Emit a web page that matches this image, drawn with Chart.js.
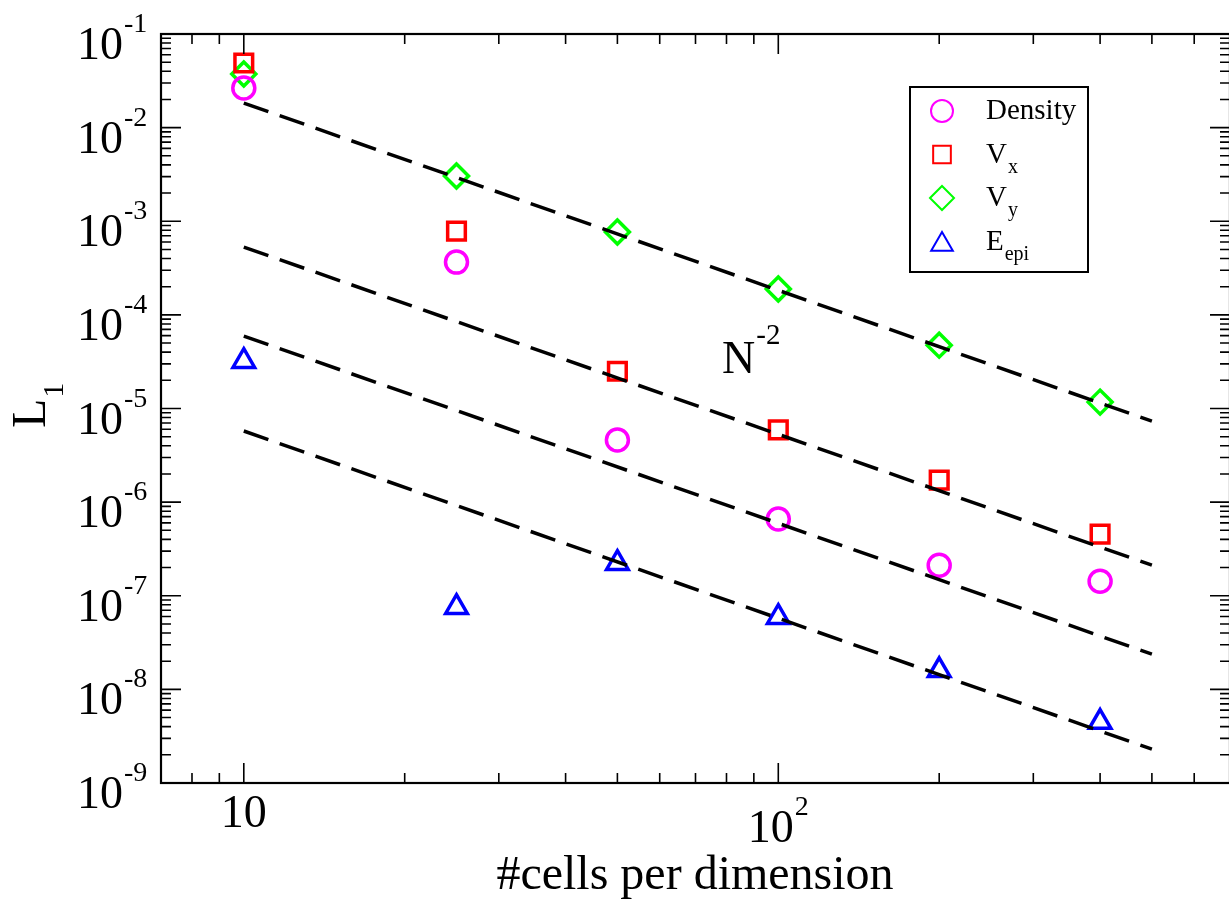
<!DOCTYPE html>
<html>
<head>
<meta charset="utf-8">
<title>L1 error vs resolution</title>
<script src="https://cdn.jsdelivr.net/npm/chart.js@4/dist/chart.umd.min.js"></script>
<style>
  html, body { margin: 0; padding: 0; background: #fff; overflow: hidden; }
  canvas { display: block; }
</style>
</head>
<body>
<!-- wider than the window: the right frame edge sits just past the visible area -->
<canvas id="conv" width="1246" height="903"></canvas>
<script>
// resolution (cells per dimension) and L1 errors per variable
const cells = [10, 25, 50, 100, 200, 400];
const density = [2.65e-2, 3.66e-4, 4.6e-6, 6.6e-7, 2.12e-7, 1.43e-7];
const vx = [4.9e-2, 7.85e-4, 2.5e-5, 5.9e-6, 1.72e-6, 4.55e-7];
const vy = [3.74e-2, 3.04e-3, 7.67e-4, 1.89e-4, 4.75e-5, 1.17e-5];
const eEpi = [3.2e-5, 7.55e-8, 2.23e-7, 5.9e-8, 1.6e-8, 4.47e-9];

// second order guide lines, values at N = 10 and N = 500
const guideN = [10, 500];
const guide1 = [1.83e-2, 7.32e-6];
const guide2 = [5.3e-4, 2.12e-7];
const guide3 = [5.94e-5, 2.38e-8];
const guide4 = [5.75e-6, 2.3e-9];

// tick labels
const xMajor = [10, 100];
const xMajorExp = ['', '2'];
const yExp = [-1, -2, -3, -4, -5, -6, -7, -8, -9];

// legend entries
const legendNames = ['Density', 'V', 'V', 'E'];
const legendSubs = ['', 'x', 'y', 'epi'];
const legendColors = ['#ff00ff', '#ff0000', '#00ff00', '#0000ff'];
const legendStyles = ['circle', 'rect', 'rectRot', 'triangle'];
const markerRadius = { circle: 11, rect: 12.5, rectRot: 12, triangle: 12.5 };

const SERIF = '"Liberation Serif", "Times New Roman", serif';

function pts(ys) {
  return ys.map((v, i) => ({ x: cells[i], y: v }));
}
function guidePts(ys) {
  return ys.map((v, i) => ({ x: guideN[i], y: v }));
}

function guideSet(ys) {
  return {
    data: guidePts(ys),
    showLine: true,
    borderColor: '#000',
    borderWidth: 3.5,
    borderDash: [26, 12],
    pointRadius: 0
  };
}

function markerSet(label, ys, k) {
  const style = legendStyles[k];
  return {
    label: label,
    data: pts(ys),
    showLine: false,
    pointStyle: style,
    pointRadius: markerRadius[style],
    pointBorderWidth: 3.5,
    pointBorderColor: legendColors[k],
    pointBackgroundColor: 'rgba(0,0,0,0)'
  };
}

// text with a raised or lowered part, e.g. 10^-2 or V_x
function drawScript(ctx, x, y, base, small, bigPx, smallPx, shift) {
  ctx.font = bigPx + 'px ' + SERIF;
  const w = ctx.measureText(base).width;
  ctx.fillText(base, x, y);
  ctx.font = smallPx + 'px ' + SERIF;
  ctx.fillText(small, x + w + 1, y + shift);
  return w + 1 + ctx.measureText(small).width;
}

function scriptWidth(ctx, base, small, bigPx, smallPx) {
  ctx.font = bigPx + 'px ' + SERIF;
  let w = ctx.measureText(base).width;
  if (small) {
    ctx.font = smallPx + 'px ' + SERIF;
    w += 1 + ctx.measureText(small).width;
  }
  return w;
}

const frame = {
  id: 'frame',
  afterDraw(chart) {
    const { ctx, chartArea: a } = chart;
    const xs = chart.scales.x, ys = chart.scales.y;
    ctx.save();
    ctx.strokeStyle = '#000';
    ctx.fillStyle = '#000';

    // ticks, inward on all four sides
    ctx.lineWidth = 1.6;
    ctx.beginPath();
    for (let e = 0; e <= 2; e++) {
      for (let k = 1; k <= 9; k++) {
        const val = k * Math.pow(10, e);
        if (val <= xs.min || val >= xs.max) continue;
        const px = xs.getPixelForValue(val);
        const len = k === 1 ? 20 : 10;
        ctx.moveTo(px, a.bottom); ctx.lineTo(px, a.bottom - len);
        ctx.moveTo(px, a.top); ctx.lineTo(px, a.top + len);
      }
    }
    for (let e = -9; e <= -1; e++) {
      for (let k = 1; k <= 9; k++) {
        const val = k * Math.pow(10, e);
        if (val > ys.max * 1.0001) continue;
        const py = ys.getPixelForValue(val);
        const len = k === 1 ? 20 : 10;
        ctx.moveTo(a.left, py); ctx.lineTo(a.left + len, py);
        ctx.moveTo(a.right, py); ctx.lineTo(a.right - len, py);
      }
    }
    ctx.stroke();

    // axis box
    ctx.lineWidth = 2.2;
    ctx.strokeRect(a.left, a.top, a.right - a.left, a.bottom - a.top);

    // y tick labels
    ctx.textBaseline = 'alphabetic';
    ctx.textAlign = 'left';
    yExp.forEach(e => {
      const py = ys.getPixelForValue(Math.pow(10, e));
      ctx.font = '46px ' + SERIF;
      const w = ctx.measureText('10').width;
      drawScript(ctx, 123 - w, py + 25, '10', String(e), 46, 28, -27);
    });

    // x tick labels, top aligned
    xMajor.forEach((val, i) => {
      const px = xs.getPixelForValue(val);
      const sup = xMajorExp[i];
      const w = scriptWidth(ctx, '10', sup, 46, 28);
      const base = sup ? 842 : 827;
      drawScript(ctx, px - w / 2, base, '10', sup, 46, 28, -27);
    });

    // axis titles
    ctx.font = '48px ' + SERIF;
    ctx.textAlign = 'center';
    ctx.fillText('#cells per dimension', 695, 889);
    ctx.textAlign = 'left';
    ctx.save();
    ctx.translate(45, 428);
    ctx.rotate(-Math.PI / 2);
    drawScript(ctx, 0, 0, 'L', '1', 48, 30, 18);
    ctx.restore();

    // slope label
    const nx = xs.getPixelForValue(78.5);
    const ny = ys.getPixelForValue(2.39e-5);
    drawScript(ctx, nx, ny, 'N', '-2', 46, 29, -29);

    // legend
    ctx.lineWidth = 2;
    ctx.strokeRect(910, 87, 178, 185);
    legendNames.forEach((name, i) => {
      const cy = 111 + i * 43.5;
      const style = legendStyles[i];
      ctx.strokeStyle = legendColors[i];
      ctx.fillStyle = 'rgba(0,0,0,0)';
      Chart.helpers.drawPoint(ctx, {
        pointStyle: style,
        radius: markerRadius[style],
        borderWidth: 3.5,
        rotation: 0
      }, 942, style === 'triangle' ? cy + 3 : cy);
      ctx.fillStyle = '#000';
      drawScript(ctx, 986, cy + 8, name, legendSubs[i], 29, 20, 10);
    });

    ctx.restore();
  }
};

new Chart(document.getElementById('conv'), {
  type: 'scatter',
  data: {
    datasets: [
      guideSet(guide1),
      guideSet(guide2),
      guideSet(guide3),
      guideSet(guide4),
      markerSet('Density', density, 0),
      markerSet('Vx', vx, 1),
      markerSet('Vy', vy, 2),
      markerSet('Eepi', eEpi, 3)
    ]
  },
  options: {
    responsive: false,
    animation: false,
    events: [],
    layout: { padding: { left: 161, top: 34, right: 2, bottom: 120 } },
    plugins: { legend: { display: false }, tooltip: { enabled: false } },
    scales: {
      x: { type: 'logarithmic', min: 7, max: 700, display: false },
      y: { type: 'logarithmic', min: 1e-9, max: 1e-1, display: false }
    }
  },
  plugins: [frame]
});
</script>
</body>
</html>
